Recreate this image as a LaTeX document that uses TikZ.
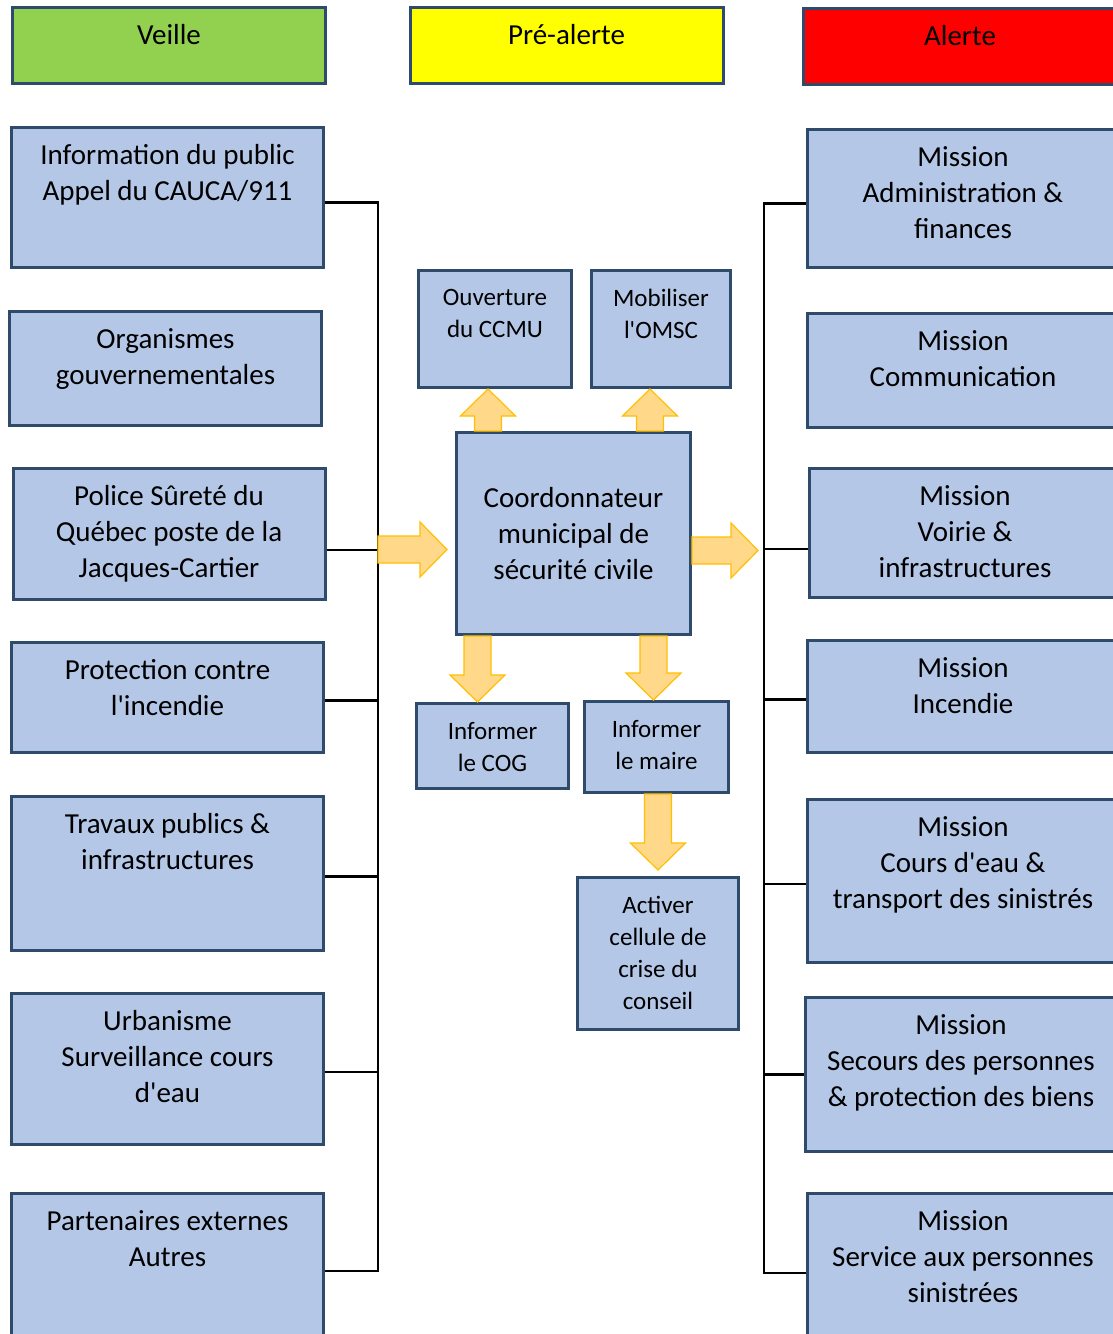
\documentclass[tikz,border=0pt]{standalone}
\usepackage{fontspec}
\setmainfont{Carlito}
\usetikzlibrary{calc}
\usetikzlibrary{positioning}
\definecolor{bleuboite}{HTML}{B4C7E7}
\definecolor{cadre}{HTML}{2F4B6B}
\definecolor{vert}{HTML}{92D050}
\definecolor{jaune}{HTML}{FFFF00}
\definecolor{rouge}{HTML}{FF0000}
\definecolor{flechefond}{HTML}{FFD88A}
\definecolor{flechebord}{HTML}{FFC000}
\tikzset{myboxBleu/.style={draw=cadre, line width=3pt, fill=bleuboite, minimum width=312pt, minimum height=#1}}
\tikzset{myboxPetit/.style={draw=cadre, line width=3pt, fill=bleuboite}}
\tikzset{myboxTitre/.style={draw=cadre, line width=3pt, minimum width=313pt, minimum height=76pt}}
\tikzset{txtGrand/.style={anchor=north, yshift=-18pt, align=center, inner sep=0pt, font=\fontsize{29}{36}\selectfont}}
\tikzset{txtPetit/.style={anchor=north, yshift=-20pt, align=center, inner sep=0pt, font=\fontsize{25}{32}\selectfont}}
\tikzset{trait/.style={line width=2.5pt, black}}
\tikzset{fleche/.style={fill=flechefond, draw=flechebord, line width=1.2pt, line join=miter}}
\newcommand{\apos}{\textquotesingle}
\newcommand{\grossefleche}[2]{%
  \filldraw[fleche] let \p1=#1, \p2=#2, \n1={atan2(\y2-\y1,\x2-\x1)}, \n2={veclen(\x2-\x1,\y2-\y1)} in
    [shift={(\p1)}, rotate=\n1]
    (0pt,13.5pt) -- ({\n2*1pt-27pt},13.5pt) -- ({\n2*1pt-27pt},27.5pt) -- ({\n2*1pt},0pt)
    -- ({\n2*1pt-27pt},-27.5pt) -- ({\n2*1pt-27pt},-13.5pt) -- (0pt,-13.5pt) -- cycle;}

\begin{document}
\begin{tikzpicture}[x=1pt, y=-1pt]

\useasboundingbox[fill=white] (0,0) rectangle (1112,1334);

\node[myboxTitre, fill=vert, label={[txtGrand]north:Veille}] (veille) at (169,45.5) {};
\node[myboxTitre, fill=jaune, label={[txtGrand]north:Pré-alerte}] (prealerte) at (566.5,45.5) {};
\node[myboxTitre, fill=rouge, label={[txtGrand]north:Alerte}] (alerte) at (960,46.5) {};

\node[myboxBleu=140pt, label={[txtGrand]north:{Information du public\\Appel du CAUCA/911}}] (info) at (167.5,197.5) {};
\node[myboxBleu=114pt, label={[txtGrand]north:{Organismes\\gouvernementales}}] (orga) at (165.5,368.5) {};
\node[myboxBleu=131pt, label={[txtGrand]north:{Police Sûreté du\\Québec poste de la\\Jacques-Cartier}}] (police) at (169,534) {};
\node[myboxBleu=110pt, label={[txtGrand]north:{Protection contre\\l\apos incendie}}] (incendie) at (167.5,697.5) {};
\node[myboxBleu=154pt, label={[txtGrand]north:{Travaux publics \&\\infrastructures}}] (travaux) at (167.5,873.5) {};
\node[myboxBleu=151pt, label={[txtGrand]north:{Urbanisme\\Surveillance cours\\d\apos eau}}] (urba) at (167.5,1069) {};
\node[myboxBleu=155pt, label={[txtGrand]north:{Partenaires externes\\Autres}}] (partenaires) at (167.5,1271) {};

\node[myboxBleu=138pt, label={[txtGrand]north:{Mission\\Administration \&\\finances}}] (admin) at (963,198.5) {};
\node[myboxBleu=114pt, label={[txtGrand]north:{Mission\\Communication}}] (comm) at (963,370.5) {};
\node[myboxBleu=129pt, label={[txtGrand]north:{Mission\\Voirie \&\\infrastructures}}] (voirie) at (965,533) {};
\node[myboxBleu=112pt, label={[txtGrand]north:{Mission\\Incendie}}] (mincendie) at (963,696.5) {};
\node[myboxBleu=163pt, label={[txtGrand]north:{Mission\\Cours d\apos eau \&\\transport des sinistrés}}] (coursdeau) at (963,881) {};
\node[myboxBleu=154pt, label={[txtGrand]north:{Mission\\Secours des personnes\\\& protection des biens}}] (secours) at (961,1074.5) {};
\node[myboxBleu=159pt, label={[txtGrand]north:{Mission\\Service aux personnes\\sinistrées}}] (service) at (963,1273) {};

\node[myboxPetit, minimum width=153pt, minimum height=117pt, label={[txtPetit]north:{Ouverture\\du CCMU}}] (ouverture) at (495,329) {};
\node[myboxPetit, minimum width=139pt, minimum height=117pt, label={[txtPetit]north:{Mobiliser\\l\apos OMSC}}] (mobiliser) at (661,329) {};
\node[myboxPetit, minimum width=234pt, minimum height=202pt, align=center, font=\fontsize{29}{36}\selectfont] (coord) at (573.5,533.5) {Coordonnateur\\municipal de\\sécurité civile};
\node[myboxPetit, minimum width=152pt, minimum height=85pt, label={[txtPetit]north:{Informer\\le COG}}] (cog) at (492.5,746) {};
\node[myboxPetit, minimum width=144pt, minimum height=91pt, label={[txtPetit]north:{Informer\\le maire}}] (maire) at (656.5,747) {};
\node[myboxPetit, minimum width=161pt, minimum height=152pt, label={[txtPetit]north:{Activer\\cellule de\\crise du\\conseil}}] (activer) at (658,953.5) {};

\coordinate (busG) at (378,0);
\coordinate (busD) at (764,0);

\draw[trait] ([yshift=-5pt]info.east) -| (busG |- partenaires.east) -- (partenaires.east);
\draw[trait] ([yshift=-16pt]police.east) -- ([yshift=-16pt]police.east -| busG);
\foreach \b in {incendie,travaux,urba}
  \draw[trait] ([yshift=-3pt]\b.east) -- ([yshift=-3pt]\b.east -| busG);

\draw[trait] ([yshift=-5pt]admin.west) -| (busD |- service.west) -- (service.west);
\draw[trait] ([yshift=-16pt]voirie.west) -- ([yshift=-16pt]voirie.west -| busD);
\foreach \b in {mincendie,coursdeau}
  \draw[trait] ([yshift=-3pt]\b.west) -- ([yshift=-3pt]\b.west -| busD);
\draw[trait] (secours.west) -- (secours.west -| busD);

\grossefleche{([yshift=-16pt]coord.west -| busG)}{([xshift=-8pt,yshift=-16pt]coord.west)}
\grossefleche{([yshift=-17pt]coord.east)}{([xshift=-6pt,yshift=-17pt]coord.east -| busD)}
\grossefleche{([xshift=-7pt]ouverture.south |- coord.north)}{([xshift=-7pt]ouverture.south)}
\grossefleche{([xshift=-11pt]mobiliser.south |- coord.north)}{([xshift=-11pt]mobiliser.south)}
\grossefleche{([xshift=-15pt]cog.north |- coord.south)}{([xshift=-15pt]cog.north)}
\grossefleche{([xshift=-3pt]maire.north |- coord.south)}{([xshift=-3pt]maire.north)}
\grossefleche{(activer.north |- maire.south)}{([yshift=6pt]activer.north)}

\end{tikzpicture}
\end{document}
